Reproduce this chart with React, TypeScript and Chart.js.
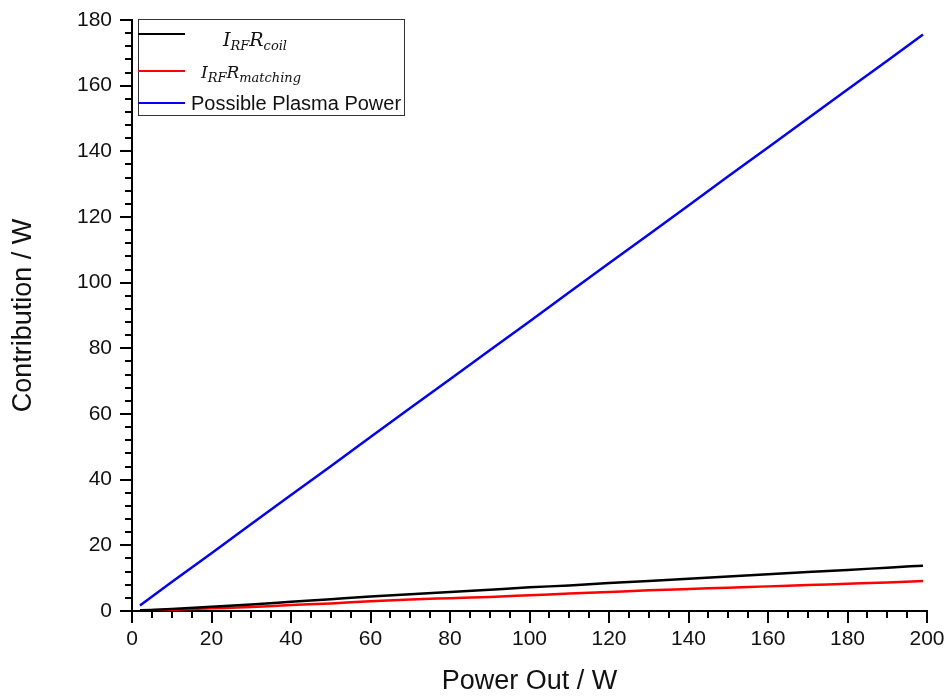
import React, { useEffect, useRef } from "react";
import { Chart, registerables } from "chart.js";

Chart.register(...registerables);

// ---- data ----
const powerOut = [2, 10, 20, 30, 40, 50, 60, 70, 80, 90, 100, 110, 120, 130, 140, 150, 160, 170, 180, 190, 199];
const coilLoss = [0.2, 0.6, 1.3, 2.0, 2.8, 3.6, 4.4, 5.1, 5.8, 6.5, 7.2, 7.8, 8.5, 9.1, 9.8, 10.5, 11.2, 11.9, 12.5, 13.2, 13.8];
const matchingLoss = [0.1, 0.4, 0.8, 1.2, 1.8, 2.3, 3.0, 3.5, 3.9, 4.3, 4.8, 5.3, 5.8, 6.3, 6.7, 7.1, 7.5, 7.9, 8.3, 8.7, 9.1];
const plasmaPower = [1.7, 8.8, 17.6, 26.5, 35.3, 44.1, 53.0, 61.8, 70.6, 79.4, 88.2, 97.1, 105.9, 114.7, 123.5, 132.4, 141.2, 150.0, 158.8, 167.6, 175.6];

const seriesColors = ["#000000", "#ff0000", "#0000ff"];
// legend labels: [main, subscript, main, subscript] for math labels
const coilLabel = ["I", "RF", "R", "coil"];
const matchingLabel = ["I", "RF", "R", "matching"];
const plasmaLabel = "Possible Plasma Power";

const xTitle = "Power Out / W";
const yTitle = "Contribution / W";

const X_MIN = 0, X_MAX = 200, X_MAJOR = 20, X_MINOR = 5;
const Y_MIN = 0, Y_MAX = 180, Y_MAJOR = 20, Y_MINOR = 4;

const SANS = "'Liberation Sans', Arial, sans-serif";
const SERIF = "'DejaVu Serif', serif";

const axisTicksPlugin = {
  id: "axisTicks",
  afterDraw(chart: any) {
    const { ctx, chartArea, scales } = chart;
    const x = scales.x, y = scales.y;
    ctx.save();
    ctx.strokeStyle = "#000";
    ctx.lineWidth = 2;
    for (let v = X_MIN; v <= X_MAX + 1e-9; v += X_MINOR) {
      const px = Math.round(x.getPixelForValue(v));
      const major = Math.abs(v % X_MAJOR) < 1e-9;
      ctx.beginPath();
      ctx.moveTo(px, chartArea.bottom);
      ctx.lineTo(px, chartArea.bottom + (major ? 12 : 7));
      ctx.stroke();
    }
    for (let v = Y_MIN; v <= Y_MAX + 1e-9; v += Y_MINOR) {
      const py = Math.round(y.getPixelForValue(v));
      const major = Math.abs(v % Y_MAJOR) < 1e-9;
      ctx.beginPath();
      ctx.moveTo(chartArea.left, py);
      ctx.lineTo(chartArea.left - (major ? 12 : 7), py);
      ctx.stroke();
    }
    ctx.restore();
  },
};

function drawMath(ctx: CanvasRenderingContext2D, parts: string[], cx: number, baseline: number, mainSize: number, subSize: number) {
  const fonts = parts.map((_, i) => (i % 2 === 0 ? `italic ${mainSize}px ${SERIF}` : `italic ${subSize}px ${SERIF}`));
  let total = 0;
  const widths = parts.map((p, i) => {
    ctx.font = fonts[i];
    const w = ctx.measureText(p).width;
    total += w;
    return w;
  });
  let xPos = cx - total / 2;
  ctx.textAlign = "left";
  ctx.textBaseline = "alphabetic";
  parts.forEach((p, i) => {
    ctx.font = fonts[i];
    ctx.fillText(p, xPos, baseline + (i % 2 === 0 ? 0 : Math.round(subSize * 0.3)));
    xPos += widths[i];
  });
}

const legendPlugin = {
  id: "customLegend",
  afterDraw(chart: any) {
    const { ctx, chartArea } = chart;
    const left = chartArea.left + 6;
    const top = chartArea.top - 1;
    const w = 266;
    const h = 96;
    ctx.save();
    ctx.fillStyle = "#fff";
    ctx.fillRect(left, top, w, h);
    ctx.strokeStyle = "#333";
    ctx.lineWidth = 1;
    ctx.strokeRect(left + 0.5, top + 0.5, w, h);
    const rows = [15, 52, 84];
    rows.forEach((ry, i) => {
      ctx.strokeStyle = seriesColors[i];
      ctx.lineWidth = 2;
      ctx.beginPath();
      ctx.moveTo(left, top + ry);
      ctx.lineTo(left + 47, top + ry);
      ctx.stroke();
    });
    ctx.fillStyle = "#111";
    drawMath(ctx, coilLabel, left + 117, top + 27, 19, 13);
    drawMath(ctx, matchingLabel, left + 113, top + 59, 17, 13);
    ctx.font = `20px ${SANS}`;
    ctx.textAlign = "left";
    ctx.textBaseline = "alphabetic";
    ctx.fillText(plasmaLabel, left + 53, top + 91);
    ctx.restore();
  },
};

export default function App() {
  const canvasRef = useRef<HTMLCanvasElement | null>(null);

  useEffect(() => {
    if (!canvasRef.current) return;
    const mk = (vals: number[]) => powerOut.map((xv, i) => ({ x: xv, y: vals[i] }));
    const chart = new Chart(canvasRef.current, {
      type: "line",
      data: {
        datasets: [
          { label: "coil", data: mk(coilLoss), borderColor: seriesColors[0], borderWidth: 2.5, pointRadius: 0, cubicInterpolationMode: "monotone", fill: false },
          { label: "matching", data: mk(matchingLoss), borderColor: seriesColors[1], borderWidth: 2.5, pointRadius: 0, cubicInterpolationMode: "monotone", fill: false },
          { label: "plasma", data: mk(plasmaPower), borderColor: seriesColors[2], borderWidth: 2.5, pointRadius: 0, tension: 0, fill: false },
        ],
      },
      options: {
        animation: false,
        responsive: false,
        maintainAspectRatio: false,
        layout: { padding: { left: 0, right: 21, top: 20, bottom: 0 } },
        plugins: { legend: { display: false }, tooltip: { enabled: false } },
        scales: {
          x: {
            type: "linear",
            min: X_MIN,
            max: X_MAX,
            grid: { display: false, drawTicks: false },
            border: { display: true, color: "#000", width: 2 },
            ticks: { stepSize: X_MAJOR, padding: 16, color: "#111", font: { family: SANS, size: 21 }, maxRotation: 0 },
            title: { display: true, text: xTitle, color: "#111", font: { family: SANS, size: 27 }, padding: { top: 0, bottom: 0 } },
            afterFit: (s: any) => { s.height = 87; s.paddingLeft = 0; s.paddingRight = 0; },
          },
          y: {
            type: "linear",
            min: Y_MIN,
            max: Y_MAX,
            grid: { display: false, drawTicks: false },
            border: { display: true, color: "#000", width: 2 },
            ticks: { stepSize: Y_MAJOR, padding: 20, color: "#111", font: { family: SANS, size: 21 } },
            title: { display: true, text: yTitle, color: "#111", font: { family: SANS, size: 27 }, padding: { top: 7, bottom: 0 } },
            afterFit: (s: any) => { s.width = 132; s.paddingTop = 0; s.paddingBottom = 0; },
          },
        },
      },
      plugins: [axisTicksPlugin, legendPlugin],
    } as any);
    return () => chart.destroy();
  }, []);

  return (
    <div style={{ position: "fixed", left: 0, top: 0, width: 948, height: 698, background: "#fff" }}>
      <canvas ref={canvasRef} width={948} height={698} style={{ display: "block" }} />
    </div>
  );
}
